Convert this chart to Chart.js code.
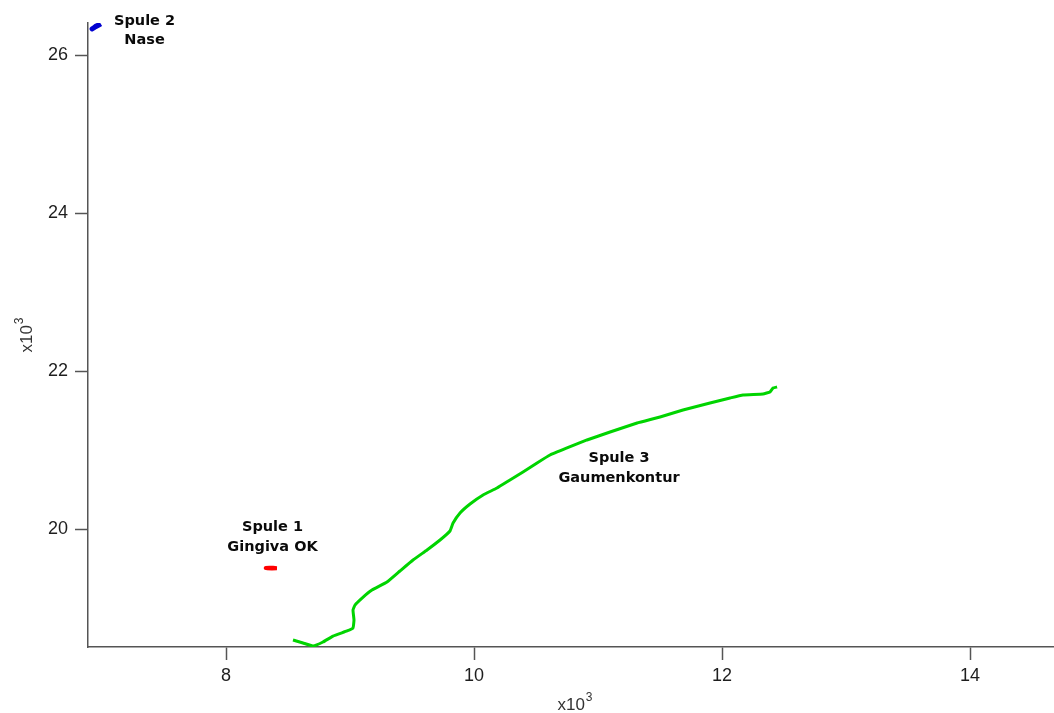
<!DOCTYPE html>
<html>
<head>
<meta charset="utf-8">
<script src="https://cdn.jsdelivr.net/npm/chart.js@4.4.1/dist/chart.umd.min.js"></script>
<style>
  html, body { margin: 0; padding: 0; background: #ffffff; }
  #wrap { width: 1054px; height: 713px; }
</style>
</head>
<body>
<div id="wrap"><canvas id="c" width="1054" height="713"></canvas></div>
<script>
// Coil positions (x, y in thousands)
const spule1X = [8.32, 8.35, 8.38, 8.41, 8.37, 8.33];
const spule1Y = [19.512, 19.517, 19.516, 19.511, 19.508, 19.510];

const spule2X = [6.92, 6.94, 6.97, 6.99, 6.98, 6.95, 6.93];
const spule2Y = [26.335, 26.355, 26.38, 26.40, 26.39, 26.37, 26.345];

const spule3X = [8.540, 8.621, 8.702, 8.782, 8.863, 8.976, 9.024, 9.032, 9.024, 9.040,
                 9.097, 9.177, 9.298, 9.403, 9.508, 9.621, 9.726, 9.806, 9.831, 9.887,
                 9.968, 10.073, 10.185, 10.290, 10.395, 10.508, 10.613, 10.750, 10.911, 11.097,
                 11.315, 11.500, 11.685, 11.903, 12.065, 12.169, 12.331, 12.387, 12.411, 12.444];
const spule3Y = [18.601, 18.563, 18.525, 18.576, 18.652, 18.716, 18.753, 18.854, 18.981, 19.044,
                 19.133, 19.234, 19.335, 19.475, 19.614, 19.741, 19.867, 19.981, 20.082, 20.209,
                 20.323, 20.437, 20.525, 20.627, 20.728, 20.842, 20.943, 21.032, 21.133, 21.234,
                 21.348, 21.424, 21.513, 21.601, 21.665, 21.703, 21.715, 21.741, 21.791, 21.804];

const xTicks = [8, 10, 12, 14];
const yTicks = [20, 22, 24, 26];
const axisMultiplier = 'x10';
const axisExponent = '3';

// Annotation texts with anchor (center x, first baseline y) in data units
const labelLines = [["Spule 2", "Nase"], ["Spule 1", "Gingiva OK"], ["Spule 3", "Gaumenkontur"]];
const labelX = [7.343, 8.375, 11.169];
const labelY = [26.386, 19.981, 20.854];

const toPoints = (xs, ys) => xs.map((x, i) => ({ x: x, y: ys[i] }));

const axisColor = '#555555';
const textColor = '#1e1e1e';

const annotationPlugin = {
  id: 'coilLabels',
  afterDraw(chart) {
    const ctx = chart.ctx;
    const xs = chart.scales.x, ys = chart.scales.y;
    ctx.save();
    ctx.fillStyle = '#0a0a0a';
    ctx.font = 'bold 14.5px "DejaVu Sans"';
    ctx.textAlign = 'center';
    ctx.textBaseline = 'alphabetic';
    labelLines.forEach((lines, i) => {
      const cx = xs.getPixelForValue(labelX[i]);
      const by = ys.getPixelForValue(labelY[i]);
      lines.forEach((t, k) => ctx.fillText(t, cx, by + k * 19.5));
    });

    // axis titles with superscript exponent
    const base = '17px "Liberation Sans"';
    const sup = '12px "Liberation Sans"';
    ctx.fillStyle = '#333333';
    ctx.textAlign = 'left';
    ctx.font = base;
    const w = ctx.measureText(axisMultiplier).width;
    ctx.font = sup;
    const ws = ctx.measureText(axisExponent).width;
    const total = w + ws + 1;

    // x title
    const xc = 575, xb = 710;
    ctx.font = base;
    ctx.fillText(axisMultiplier, xc - total / 2, xb);
    ctx.font = sup;
    ctx.fillText(axisExponent, xc - total / 2 + w + 1, xb - 9);

    // y title (rotated)
    ctx.translate(32, 335);
    ctx.rotate(-Math.PI / 2);
    ctx.font = base;
    ctx.fillText(axisMultiplier, -total / 2, 0);
    ctx.font = sup;
    ctx.fillText(axisExponent, -total / 2 + w + 1, -9);
    ctx.restore();
  }
};

new Chart(document.getElementById('c'), {
  type: 'scatter',
  data: {
    datasets: [
      { label: 'Spule 3', data: toPoints(spule3X, spule3Y), showLine: true,
        borderColor: '#00d400', borderWidth: 3, pointRadius: 0, tension: 0.1 },
      { label: 'Spule 1', data: toPoints(spule1X, spule1Y), showLine: true,
        borderColor: '#ff0000', borderWidth: 4, borderCapStyle: 'round', pointRadius: 0 },
      { label: 'Spule 2', data: toPoints(spule2X, spule2Y), showLine: true,
        borderColor: '#0000d0', borderWidth: 5, borderCapStyle: 'round', pointRadius: 0 }
    ]
  },
  options: {
    responsive: false,
    animation: false,
    devicePixelRatio: 1,
    layout: { padding: { top: 23, right: 0, left: 0, bottom: 0 } },
    plugins: { legend: { display: false }, tooltip: { enabled: false } },
    scales: {
      x: {
        type: 'linear',
        min: 6.887, max: 14.677,
        afterBuildTicks: (s) => { s.ticks = xTicks.map(v => ({ value: v })); },
        afterFit: (s) => { s.height = 66; },
        grid: { drawOnChartArea: false, drawTicks: true, tickLength: 13, color: axisColor, tickWidth: 1.5 },
        border: { display: true, color: axisColor, width: 1.5 },
        ticks: { color: textColor, font: { family: 'Liberation Sans', size: 18 }, padding: 5,
                 maxRotation: 0, autoSkip: false, callback: (v) => String(v) }
      },
      y: {
        type: 'linear',
        min: 18.513, max: 26.41,
        afterBuildTicks: (s) => { s.ticks = yTicks.map(v => ({ value: v })); },
        afterFit: (s) => { s.width = 88; },
        grid: { drawOnChartArea: false, drawTicks: true, tickLength: 13, color: axisColor, tickWidth: 1.5 },
        border: { display: true, color: axisColor, width: 1.5 },
        ticks: { color: textColor, font: { family: 'Liberation Sans', size: 18 }, padding: 7,
                 autoSkip: false, callback: (v) => String(v) }
      }
    }
  },
  plugins: [annotationPlugin]
});
</script>
</body>
</html>
